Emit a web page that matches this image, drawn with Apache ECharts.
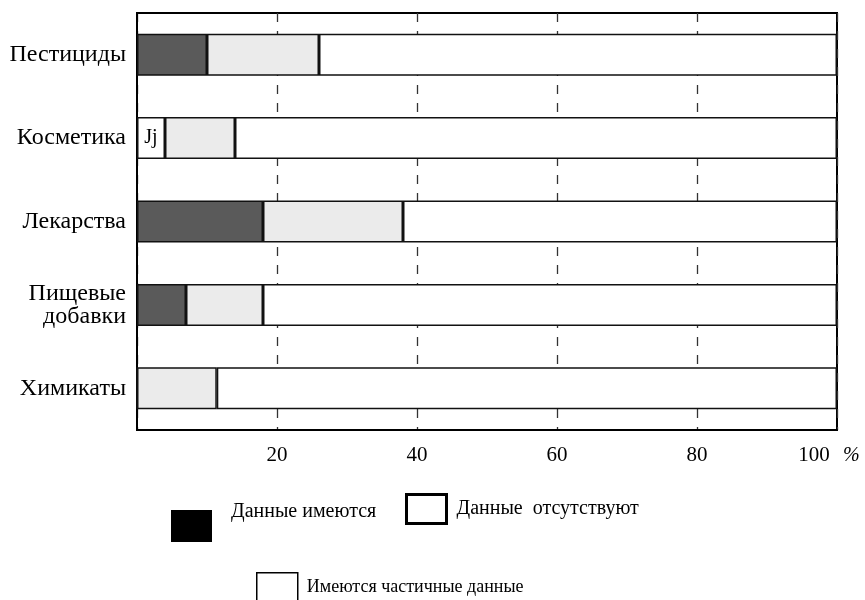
<!DOCTYPE html>
<html><head><meta charset="utf-8">
<script src="https://cdn.jsdelivr.net/npm/echarts@6/dist/echarts.min.js"></script>
<style>html,body{margin:0;padding:0;background:#fff}#c{width:865px;height:600px}</style>
</head><body><div id="c"></div>
<script>
const categories = ['Пестициды', 'Косметика', 'Лекарства', 'Пищевые\nдобавки', 'Химикаты'];
const available = [10, 4, 18, 7, 0];
const partial = [16, 10, 20, 11, 11.4];
const absent = [74, 86, 62, 82, 88.6];
const xTicks = [20, 40, 60, 80, 100];
const names = ['Данные имеются', 'Имеются частичные данные', 'Данные отсутствуют'];

const FONT = 'Liberation Serif';
const chart = echarts.init(document.getElementById('c'), null, {renderer: 'canvas'});
const border = {borderColor: '#111', borderWidth: 1.5};

const availData = available.map((v, i) => i === 1
  ? {value: v, itemStyle: {color: '#fff'}, label: {show: true, formatter: 'Jj', position: 'inside', color: '#000', fontFamily: FONT, fontSize: 20}}
  : v);

chart.setOption({
  animation: false,
  backgroundColor: '#fff',
  grid: {left: 137, right: 28, top: 13, bottom: 170, outerBoundsMode: 'none', containLabel: false, show: true, borderColor: '#000', borderWidth: 2, backgroundColor: 'transparent'},
  xAxis: {
    type: 'value', min: 0, max: 100, interval: 20,
    axisLine: {show: true, lineStyle: {color: '#000', width: 2}},
    axisTick: {show: false},
    splitLine: {show: true, lineStyle: {color: '#333', width: 1.3, type: [9, 9]}},
    axisLabel: {
      margin: 15, color: '#000', fontFamily: FONT, fontSize: 21,
      formatter: v => xTicks.includes(v) ? (v === 100 ? '{n|100} {p|%}' : String(v)) : '',
      rich: {n: {fontFamily: FONT, fontSize: 21, color: '#000', padding: [0, 8, 0, 0]}, p: {fontFamily: FONT, fontSize: 20, fontStyle: 'italic', color: '#000', padding: [0, 16, 0, 0]}}
    }
  },
  yAxis: {
    type: 'category', data: categories, inverse: true,
    axisLine: {show: true, lineStyle: {color: '#000', width: 2}},
    axisTick: {show: false},
    axisLabel: {margin: 11, color: '#000', fontFamily: FONT, fontSize: 24, lineHeight: 23, align: 'right'}
  },
  legend: [
    {data: [{name: names[0], itemStyle: {color: '#000', borderWidth: 0}}], left: 166, top: 493, itemWidth: 41, itemHeight: 32, icon: 'rect',
     formatter: n => n + '\n ',
     textStyle: {fontFamily: FONT, fontSize: 20, lineHeight: 28, color: '#000', padding: [0, 0, 0, 14]}},
    {data: [{name: names[2], itemStyle: {color: '#fff', borderColor: '#000', borderWidth: 3}}], left: 400, top: 488, itemWidth: 40, itemHeight: 29, icon: 'rect',
     formatter: () => 'Данные  отсутствуют',
     textStyle: {fontFamily: FONT, fontSize: 20, color: '#000', padding: [0, 0, 0, 5]}},
    {data: [{name: names[1], itemStyle: {color: '#fff', borderColor: '#000', borderWidth: 1.5}}], left: 251, top: 567, itemWidth: 41, itemHeight: 30, icon: 'rect',
     textStyle: {fontFamily: FONT, fontSize: 18, color: '#000', padding: [0, 0, 0, 4]}}
  ],
  series: [
    {name: names[0], type: 'bar', stack: 's', barWidth: 42, data: availData, itemStyle: Object.assign({color: '#5a5a5a'}, border)},
    {name: names[1], type: 'bar', stack: 's', barWidth: 42, data: partial, itemStyle: Object.assign({color: '#ebebeb'}, border)},
    {name: names[2], type: 'bar', stack: 's', barWidth: 42, data: absent, itemStyle: Object.assign({color: '#fff'}, border)}
  ]
});
</script></body></html>
